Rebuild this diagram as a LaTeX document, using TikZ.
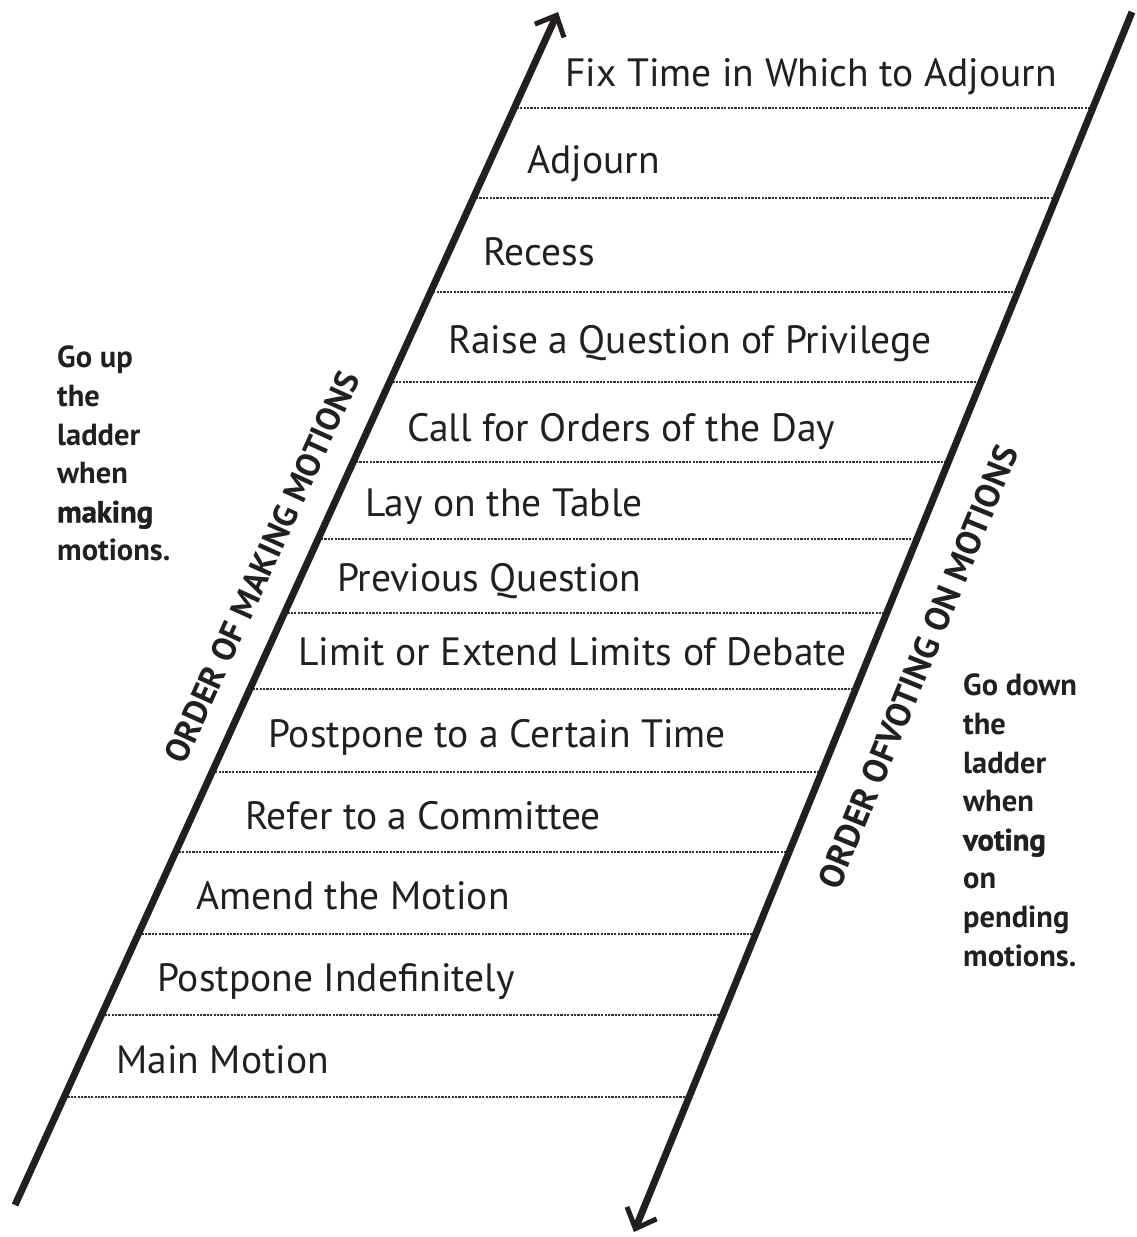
\documentclass[tikz,border=0pt]{standalone}
\usepackage{fontspec}
\setmainfont{PT Sans}
\newfontfamily\heavyb[FakeBold=1.5]{PT Sans Bold}
\usetikzlibrary{arrows.meta,calc}
\definecolor{ink}{HTML}{231F20}
\tikzset{
  rail/.style={line width=7pt, ink, line cap=butt},
  railarrow/.style={rail, -{Straight Barb[length=17pt,width=32pt,line width=5pt]}},
  rung/.style={line width=2.8pt, black!80, dash pattern=on 2.2pt off 1.2pt},
  rlabel/.style={anchor=base west, inner sep=0pt, text=ink, font=\fontsize{39.5}{46}\selectfont},
  side/.style={anchor=north west, inner sep=0pt, text=ink, align=left, font=\bfseries\fontsize{30.5}{38.6}\selectfont},
  vert/.style={inner sep=0pt, text=ink, font=\bfseries\fontsize{33.5}{38}\selectfont}
}
\begin{document}
\begin{tikzpicture}[x=1pt,y=-1pt]
\useasboundingbox (0,0) rectangle (1137,1237);
% rungs
\foreach \i/\y in {1/108,2/198,3/292,4/382,5/462,6/539,7/613,8/689,9/772,10/852,11/934,12/1015,13/1097}{
  \pgfmathsetmacro{\xl}{15+0.4544*(1205-\y)}
  \pgfmathsetmacro{\xr}{1132-0.4087*(\y-12)}
  \coordinate (rl\i) at (\xl,\y);
  \coordinate (rr\i) at (\xr,\y);
  \draw[rung] (rl\i) -- (rr\i);
}
% rails
\coordinate (lb) at (15,1205);
\coordinate (lt) at (558,12);
\coordinate (rt) at (1132,12);
\coordinate (rb) at (634,1232);
\draw[railarrow] (lb) -- (lt);
\draw[railarrow] (rt) -- (rb);
% labels
\node[rlabel] (m1) at (565,86) {Fix Time in Which to Adjourn};
\node[rlabel] (m2) at (527,173) {Adjourn};
\node[rlabel] (m3) at (483,265) {Recess};
\node[rlabel] (m4) at (448,353) {Raise a Question of Privilege};
\node[rlabel] (m5) at (407,441) {Call for Orders of the Day};
\node[rlabel] (m6) at (365,516) {Lay on the Table};
\node[rlabel] (m7) at (337,591) {Previous Question};
\node[rlabel] (m8) at (298,665) {Limit or Extend Limits of Debate};
\node[rlabel] (m9) at (268,747) {Postpone to a Certain Time};
\node[rlabel] (m10) at (245,829) {Refer to a Committee};
\node[rlabel] (m11) at (196,909) {Amend the Motion};
\node[rlabel] (m12) at (157,991) {Postpone Indefinitely};
\node[rlabel] (m13) at (116,1073) {Main Motion};
% rotated
\node[vert, rotate=65.6] (om) at (262,567) {ORDER OF MAKING MOTIONS};
\node[vert, rotate=67.7, font=\bfseries\fontsize{34.5}{38}\selectfont] (ov) at (918,667) {ORDER OFVOTING ON MOTIONS};
% side notes
\node[side] (up) at (57,346) {Go up\\the\\ladder\\when\\{\heavyb making}\\motions.};
\node[side] (down) at (963,674) {Go down\\the\\ladder\\when\\{\heavyb voting}\\on\\pending\\motions.};
\end{tikzpicture}
\end{document}
